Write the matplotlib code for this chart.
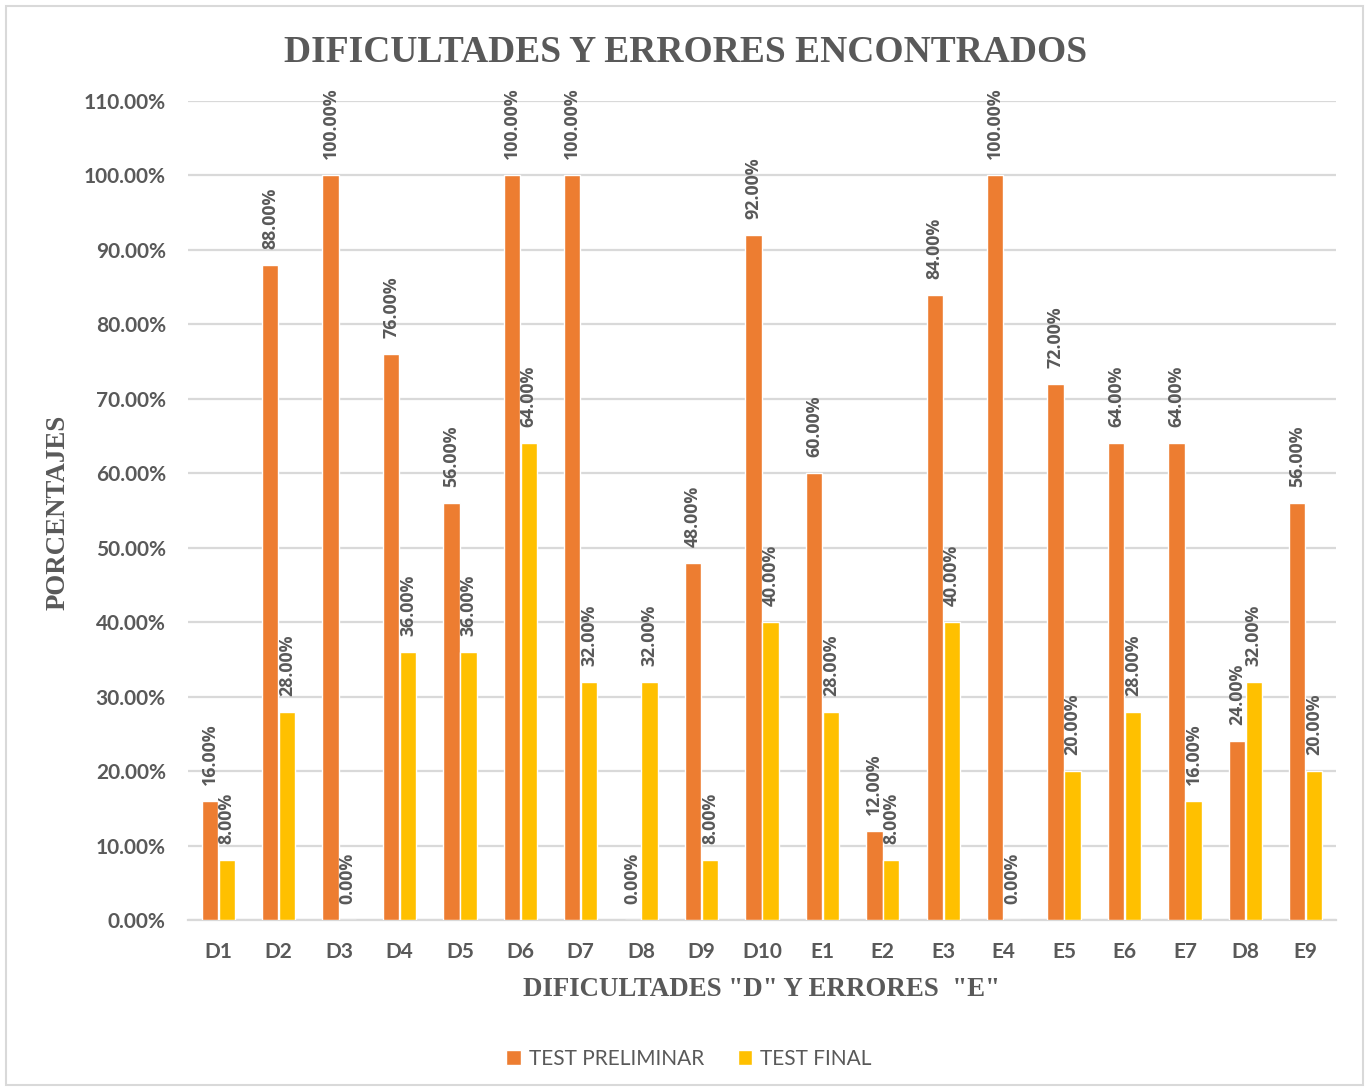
import matplotlib
matplotlib.use("Agg")
import matplotlib.pyplot as plt
from matplotlib.patches import Rectangle
from matplotlib.font_manager import FontProperties
import numpy as np

categories = ["D1", "D2", "D3", "D4", "D5", "D6", "D7", "D8", "D9", "D10",
              "E1", "E2", "E3", "E4", "E5", "E6", "E7", "D8", "E9"]
preliminar = [16, 88, 100, 76, 56, 100, 100, 0, 48, 92, 60, 12, 84, 100, 72, 64, 64, 24, 56]
final = [8, 28, 0, 36, 36, 64, 32, 32, 8, 40, 28, 8, 40, 0, 20, 28, 16, 32, 20]
yticks = [0, 10, 20, 30, 40, 50, 60, 70, 80, 90, 100, 110]

GRAY = "#595959"
ORANGE = "#ED7D31"
YELLOW = "#FFC000"
SANS = ["Lato", "DejaVu Sans"]
SERIF = ["Liberation Serif", "DejaVu Serif"]

fig = plt.figure(figsize=(13.69, 10.91), dpi=100)
ax = fig.add_axes([188/1369, 1-920/1091, (1336-188)/1369, (920-101)/1091])

x = np.arange(len(categories))
w = 0.27
b1 = ax.bar(x - 0.14, preliminar, w, color=ORANGE, edgecolor="white", linewidth=1, zorder=3,
            label="TEST PRELIMINAR")
b2 = ax.bar(x + 0.14, final, w, color=YELLOW, edgecolor="white", linewidth=1, zorder=3,
            label="TEST FINAL")

label_fp = FontProperties(family=["Open Sans", "DejaVu Sans"], weight="bold", size=12.8)
for bars, vals in ((b1, preliminar), (b2, final)):
    for r, v in zip(bars, vals):
        ax.annotate(f"{v:.2f}%", (r.get_x() + r.get_width()/2, v),
                    xytext=(0, 16), textcoords="offset pixels",
                    rotation=90, ha="center", va="bottom",
                    fontproperties=label_fp, color=GRAY)

ax.set_xlim(-0.5, len(categories) - 0.5)
ax.set_ylim(0, 110)
ax.set_yticks(yticks)
ax.set_yticklabels([f"{t:.2f}%" for t in yticks])
ax.set_xticks(x)
ax.set_xticklabels(categories)
ax.tick_params(axis="both", length=0, colors=GRAY, labelsize=15)
ax.tick_params(axis="y", pad=16)
ax.tick_params(axis="x", pad=16)
for lab in ax.get_xticklabels() + ax.get_yticklabels():
    lab.set_fontweight("bold")
    lab.set_family(SANS)

ax.grid(axis="y", color="#D9D9D9", linewidth=1.6, zorder=0)
ax.set_axisbelow(True)
for s in ("top", "right", "left"):
    ax.spines[s].set_visible(False)
ax.spines["bottom"].set_color("#D9D9D9")
ax.spines["bottom"].set_linewidth(1.6)

fig.text(686/1369, 1-62/1091, "DIFICULTADES Y ERRORES ENCONTRADOS", ha="center", va="baseline",
         fontsize=27, fontweight="bold", color=GRAY, family=SERIF)
fig.text(761/1369, 1-989/1091, 'DIFICULTADES "D" Y ERRORES  "E"', ha="center", va="center",
         fontsize=19.4, fontweight="bold", color=GRAY, family=SERIF)
fig.text(58/1369, 1-512/1091, "PORCENTAJES", ha="center", va="center", rotation=90,
         fontsize=19.4, fontweight="bold", color=GRAY, family=SERIF)

leg = fig.legend(handles=[b1, b2], loc="center", bbox_to_anchor=(689/1369, 1-1059/1091),
                 ncol=2, frameon=False, handlelength=0.7, handleheight=0.7,
                 columnspacing=1.6, handletextpad=0.4, prop={"family": SANS, "size": 15})
for t in leg.get_texts():
    t.set_color(GRAY)

fig.patches.append(Rectangle((6/1369, 6/1091), (1363-6)/1369, (1085-6)/1091,
                             transform=fig.transFigure, fill=False,
                             edgecolor="#D9D9D9", linewidth=1.5))

fig.savefig("out.png", dpi=100)
